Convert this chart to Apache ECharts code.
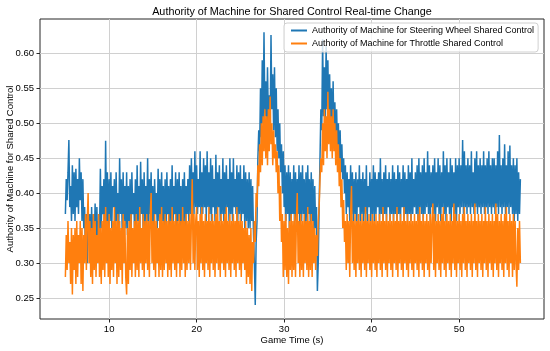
<!DOCTYPE html>
<html>
<head>
<meta charset="utf-8">
<script src="https://cdn.jsdelivr.net/npm/echarts@6/dist/echarts.min.js"></script>
<style>html,body{margin:0;padding:0;background:#fff}#c{width:550px;height:351px}</style>
</head>
<body>
<div id="c"></div>
<script>
const TITLE = 'Authority of Machine for Shared Control Real-time Change';
const X_NAME = 'Game Time (s)';
const Y_NAME = 'Authority of Machine for Shared Control';
const SERIES_NAMES = ['Authority of Machine for Steering Wheel Shared Control', 'Authority of Machine for Throttle Shared Control'];
const X_TICKS = [10, 20, 30, 40, 50];
const Y_TICKS = [0.25, 0.30, 0.35, 0.40, 0.45, 0.50, 0.55, 0.60];
const T_START = 5.0;   // s, first sample
const T_STEP = 0.1;    // s, sampling step (one row below = one second)

const steering = [
  0.37,0.42,0.39,0.43,0.476,0.38,0.41,0.36,0.44,0.37,
  0.43,0.36,0.435,0.38,0.42,0.37,0.45,0.39,0.43,0.36,
  0.42,0.35,0.38,0.31,0.37,0.30,0.38,0.33,0.37,0.31,
  0.38,0.30,0.37,0.33,0.385,0.31,0.38,0.32,0.36,0.34,
  0.435,0.35,0.41,0.37,0.42,0.34,0.475,0.36,0.43,0.34,
  0.42,0.36,0.43,0.35,0.41,0.38,0.42,0.34,0.43,0.36,
  0.40,0.35,0.45,0.37,0.42,0.34,0.43,0.36,0.41,0.35,
  0.43,0.34,0.41,0.36,0.42,0.33,0.43,0.37,0.40,0.35,
  0.42,0.34,0.44,0.36,0.41,0.35,0.445,0.37,0.42,0.34,
  0.43,0.35,0.41,0.36,0.45,0.34,0.42,0.37,0.43,0.35,
  0.41,0.34,0.42,0.37,0.40,0.35,0.435,0.36,0.42,0.34,
  0.43,0.36,0.41,0.35,0.42,0.34,0.43,0.37,0.41,0.35,
  0.42,0.36,0.44,0.35,0.41,0.37,0.43,0.34,0.42,0.36,
  0.43,0.35,0.41,0.34,0.42,0.36,0.43,0.35,0.41,0.37,
  0.42,0.36,0.44,0.37,0.45,0.38,0.43,0.37,0.46,0.38,
  0.44,0.37,0.42,0.38,0.46,0.36,0.43,0.37,0.45,0.38,
  0.44,0.36,0.46,0.38,0.43,0.37,0.45,0.36,0.44,0.38,
  0.42,0.36,0.455,0.37,0.43,0.38,0.44,0.36,0.42,0.37,
  0.45,0.36,0.43,0.37,0.44,0.38,0.42,0.36,0.45,0.37,
  0.43,0.36,0.45,0.38,0.42,0.37,0.44,0.36,0.43,0.37,
  0.44,0.36,0.42,0.37,0.44,0.35,0.43,0.36,0.42,0.35,
  0.43,0.35,0.42,0.36,0.41,0.34,0.30,0.24,0.33,0.36,
  0.45,0.49,0.46,0.55,0.48,0.59,0.50,0.63,0.51,0.56,
  0.49,0.58,0.50,0.54,0.48,0.626,0.52,0.57,0.49,0.58,
  0.48,0.55,0.46,0.52,0.45,0.50,0.43,0.47,0.40,0.46,
  0.38,0.44,0.36,0.43,0.37,0.44,0.35,0.43,0.36,0.42,
  0.37,0.44,0.35,0.43,0.36,0.42,0.37,0.44,0.35,0.43,
  0.36,0.44,0.37,0.42,0.35,0.43,0.36,0.44,0.37,0.42,
  0.35,0.43,0.36,0.42,0.34,0.41,0.35,0.38,0.26,0.30,
  0.38,0.45,0.52,0.49,0.62,0.51,0.58,0.50,0.61,0.52,
  0.59,0.50,0.57,0.49,0.55,0.48,0.56,0.47,0.53,0.47,
  0.52,0.46,0.50,0.44,0.49,0.43,0.47,0.42,0.45,0.40,
  0.44,0.37,0.43,0.38,0.42,0.36,0.44,0.37,0.43,0.36,
  0.42,0.37,0.43,0.35,0.42,0.38,0.44,0.36,0.42,0.37,
  0.43,0.36,0.42,0.37,0.44,0.36,0.41,0.38,0.43,0.36,
  0.42,0.37,0.44,0.36,0.43,0.37,0.42,0.38,0.43,0.36,
  0.45,0.37,0.42,0.36,0.43,0.37,0.44,0.36,0.42,0.38,
  0.43,0.36,0.42,0.37,0.44,0.36,0.43,0.37,0.42,0.36,
  0.44,0.37,0.43,0.36,0.42,0.38,0.44,0.36,0.43,0.37,
  0.42,0.36,0.44,0.37,0.43,0.36,0.45,0.37,0.42,0.38,
  0.43,0.37,0.44,0.36,0.45,0.38,0.43,0.37,0.44,0.36,
  0.45,0.37,0.43,0.38,0.46,0.37,0.44,0.36,0.43,0.38,
  0.44,0.37,0.45,0.36,0.43,0.38,0.45,0.37,0.44,0.36,
  0.43,0.38,0.46,0.37,0.44,0.36,0.45,0.38,0.43,0.37,
  0.45,0.36,0.44,0.38,0.43,0.37,0.45,0.36,0.44,0.38,
  0.45,0.37,0.44,0.38,0.476,0.37,0.46,0.38,0.44,0.37,
  0.45,0.38,0.44,0.37,0.46,0.38,0.43,0.37,0.45,0.38,
  0.46,0.37,0.44,0.38,0.45,0.37,0.44,0.38,0.46,0.37,
  0.44,0.38,0.45,0.37,0.46,0.38,0.44,0.37,0.45,0.38,
  0.45,0.37,0.44,0.38,0.46,0.37,0.483,0.38,0.44,0.37,
  0.45,0.38,0.47,0.37,0.44,0.38,0.46,0.37,0.468,0.38,
  0.44,0.37,0.45,0.36,0.44,0.37,0.45,0.36,0.43,0.37,
  0.42
];

const throttle = [
  0.28,0.34,0.29,0.36,0.30,0.33,0.27,0.35,0.255,0.34,
  0.29,0.35,0.27,0.36,0.28,0.34,0.30,0.36,0.27,0.35,
  0.26,0.34,0.30,0.37,0.29,0.36,0.40,0.30,0.36,0.28,
  0.35,0.27,0.37,0.29,0.36,0.28,0.34,0.30,0.37,0.28,
  0.35,0.27,0.36,0.29,0.37,0.28,0.38,0.30,0.36,0.28,
  0.37,0.27,0.35,0.29,0.36,0.28,0.38,0.30,0.36,0.27,
  0.37,0.28,0.36,0.29,0.35,0.27,0.37,0.30,0.36,0.28,
  0.255,0.35,0.27,0.36,0.29,0.37,0.28,0.35,0.30,0.36,
  0.28,0.37,0.29,0.36,0.28,0.38,0.30,0.35,0.29,0.37,
  0.28,0.36,0.30,0.37,0.29,0.36,0.28,0.37,0.40,0.30,
  0.36,0.29,0.37,0.28,0.36,0.30,0.35,0.28,0.37,0.29,
  0.38,0.28,0.36,0.29,0.37,0.30,0.36,0.28,0.37,0.29,
  0.36,0.28,0.38,0.30,0.36,0.29,0.37,0.28,0.36,0.30,
  0.37,0.28,0.36,0.29,0.38,0.30,0.36,0.28,0.37,0.29,
  0.36,0.30,0.37,0.29,0.36,0.42,0.30,0.37,0.29,0.36,
  0.38,0.29,0.36,0.28,0.37,0.30,0.38,0.29,0.36,0.28,
  0.37,0.30,0.36,0.29,0.38,0.28,0.36,0.30,0.37,0.29,
  0.36,0.28,0.37,0.30,0.38,0.29,0.36,0.28,0.37,0.30,
  0.36,0.29,0.37,0.28,0.38,0.30,0.36,0.29,0.37,0.28,
  0.36,0.30,0.37,0.29,0.36,0.28,0.38,0.30,0.36,0.29,
  0.37,0.28,0.36,0.30,0.35,0.29,0.36,0.27,0.35,0.28,
  0.34,0.27,0.35,0.26,0.33,0.30,0.36,0.33,0.40,0.38,
  0.44,0.41,0.47,0.43,0.50,0.44,0.51,0.46,0.52,0.45,
  0.51,0.44,0.52,0.46,0.538,0.47,0.50,0.44,0.49,0.45,
  0.47,0.43,0.46,0.40,0.44,0.36,0.41,0.33,0.37,0.28,
  0.36,0.29,0.37,0.28,0.35,0.27,0.36,0.29,0.37,0.28,
  0.36,0.29,0.37,0.28,0.36,0.40,0.30,0.36,0.28,0.37,
  0.29,0.36,0.28,0.37,0.30,0.36,0.29,0.38,0.28,0.36,
  0.29,0.37,0.28,0.36,0.30,0.35,0.29,0.34,0.31,0.36,
  0.38,0.42,0.45,0.43,0.50,0.44,0.52,0.46,0.51,0.45,
  0.545,0.47,0.52,0.46,0.51,0.45,0.52,0.46,0.50,0.44,
  0.49,0.43,0.47,0.41,0.45,0.38,0.42,0.35,0.39,0.33,
  0.36,0.29,0.37,0.30,0.36,0.28,0.37,0.41,0.30,0.36,
  0.29,0.37,0.28,0.36,0.30,0.37,0.29,0.36,0.28,0.37,
  0.30,0.36,0.29,0.38,0.28,0.36,0.30,0.37,0.29,0.36,
  0.28,0.37,0.30,0.36,0.29,0.37,0.28,0.36,0.30,0.37,
  0.29,0.36,0.28,0.38,0.30,0.36,0.29,0.37,0.28,0.36,
  0.30,0.37,0.29,0.36,0.28,0.37,0.30,0.36,0.29,0.38,
  0.28,0.36,0.30,0.37,0.29,0.36,0.28,0.38,0.30,0.36,
  0.29,0.37,0.28,0.36,0.30,0.37,0.29,0.36,0.28,0.37,
  0.30,0.36,0.29,0.37,0.28,0.38,0.30,0.36,0.29,0.37,
  0.28,0.36,0.30,0.37,0.29,0.36,0.28,0.37,0.30,0.36,
  0.385,0.29,0.37,0.28,0.36,0.30,0.37,0.29,0.36,0.28,
  0.37,0.30,0.38,0.29,0.36,0.28,0.37,0.30,0.36,0.29,
  0.37,0.28,0.36,0.30,0.385,0.29,0.37,0.28,0.36,0.30,
  0.37,0.29,0.36,0.28,0.37,0.30,0.38,0.29,0.36,0.28,
  0.37,0.30,0.36,0.29,0.37,0.28,0.36,0.30,0.385,0.29,
  0.36,0.28,0.37,0.30,0.36,0.29,0.37,0.28,0.36,0.30,
  0.38,0.29,0.36,0.28,0.37,0.30,0.36,0.29,0.37,0.28,
  0.36,0.30,0.385,0.29,0.37,0.28,0.36,0.30,0.37,0.29,
  0.36,0.28,0.37,0.30,0.38,0.29,0.36,0.28,0.37,0.30,
  0.36,0.28,0.37,0.29,0.36,0.30,0.266,0.35,0.29,0.36,
  0.30
];

function pairs(vals) {
  return vals.map((v, i) => [+(T_START + i * T_STEP).toFixed(2), v]);
}

const FONT = '"Liberation Sans", Arial, sans-serif';
const chart = echarts.init(document.getElementById('c'), null, {renderer: 'canvas'});
chart.setOption({
  animation: false,
  backgroundColor: '#fff',
  title: {
    text: TITLE, left: 292, top: 6.5, textAlign: 'center', padding: 0,
    textStyle: {fontFamily: FONT, fontSize: 10.8, fontWeight: 'normal', color: '#000'}
  },
  legend: {
    orient: 'vertical', left: 284, top: 23,
    icon: 'rect', itemWidth: 16, itemHeight: 2, itemGap: 2,
    padding: [2, 4, 3, 7],
    backgroundColor: 'rgba(255,255,255,0.8)', borderColor: '#d0d0d0', borderWidth: 1, borderRadius: 3,
    textStyle: {fontFamily: FONT, fontSize: 9, color: '#000', lineHeight: 11},
    data: SERIES_NAMES
  },
  grid: {left: 40, right: 6, top: 19, bottom: 32, containLabel: false, outerBoundsMode: 'none',
         show: true, borderColor: '#262626', borderWidth: 1, backgroundColor: 'transparent'},
  xAxis: {
    type: 'value', min: 2.1, max: 59.7,
    name: X_NAME, nameLocation: 'middle', nameGap: 16, nameMoveOverlap: false,
    nameTextStyle: {fontFamily: FONT, fontSize: 9.5, color: '#000'},
    axisLine: {show: false},
    axisTick: {show: true, length: 3.5, inside: false, lineStyle: {color: '#262626'}, customValues: X_TICKS},
    axisLabel: {fontFamily: FONT, fontSize: 9.5, color: '#000', margin: 5, customValues: X_TICKS},
    splitLine: {show: true, lineStyle: {color: '#d0d0d0', width: 1}}
  },
  yAxis: {
    type: 'value', min: 0.22, max: 0.649,
    name: Y_NAME, nameLocation: 'middle', nameGap: 25, nameMoveOverlap: false,
    nameTextStyle: {fontFamily: FONT, fontSize: 9.5, color: '#000'},
    axisLine: {show: false},
    axisTick: {show: true, length: 3.5, inside: false, lineStyle: {color: '#262626'}, customValues: Y_TICKS},
    axisLabel: {fontFamily: FONT, fontSize: 9.5, color: '#000', margin: 6, customValues: Y_TICKS, formatter: v => v.toFixed(2)},
    splitLine: {show: true, lineStyle: {color: '#d0d0d0', width: 1}}
  },
  series: [
    {name: SERIES_NAMES[0], type: 'line', data: pairs(steering), symbol: 'none', showSymbol: false,
     lineStyle: {color: '#1f77b4', width: 1.5}, itemStyle: {color: '#1f77b4'}, z: 2},
    {name: SERIES_NAMES[1], type: 'line', data: pairs(throttle), symbol: 'none', showSymbol: false,
     lineStyle: {color: '#ff7f0e', width: 1.5}, itemStyle: {color: '#ff7f0e'}, z: 3}
  ]
});
</script>
</body>
</html>
